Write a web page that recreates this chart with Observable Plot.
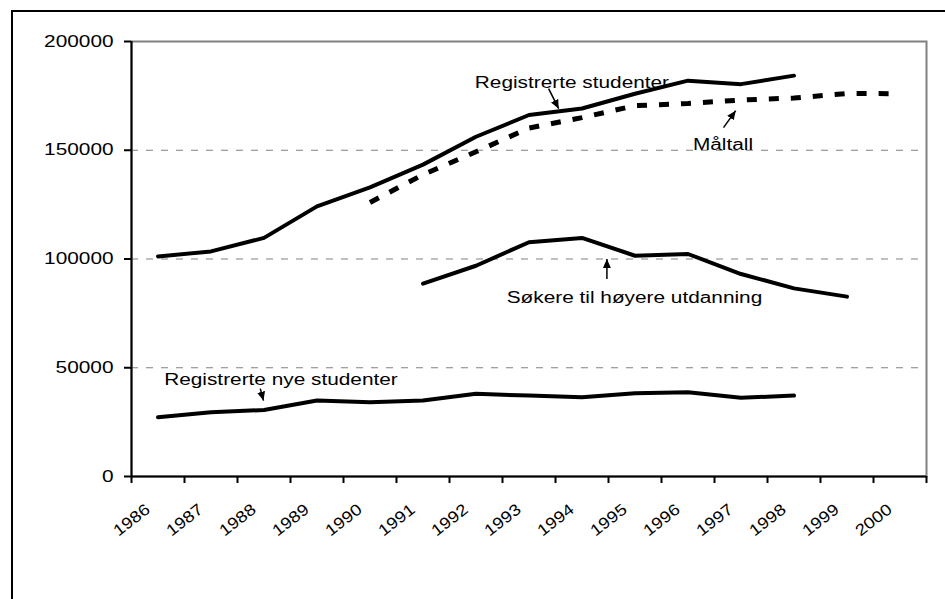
<!DOCTYPE html>
<html><head><meta charset="utf-8">
<script src="https://cdn.jsdelivr.net/npm/d3@7"></script>
<script src="https://cdn.jsdelivr.net/npm/@observablehq/plot@0.6"></script>
<style>
html,body{margin:0;padding:0;background:#fff;overflow:hidden;}
#wrap{position:relative;width:945px;height:599px;overflow:hidden;}
#wrap svg{position:absolute;left:0;top:0;}
#border{position:absolute;left:11px;top:10px;width:2000px;height:2000px;border:2px solid #000;pointer-events:none;}
</style></head><body><div id="wrap"><div id="border"></div></div>
<script>
// Category labels
const years = [1986,1987,1988,1989,1990,1991,1992,1993,1994,1995,1996,1997,1998,1999,2000];
const yTicks = [0, 50000, 100000, 150000, 200000];
const gridValues = [50000, 100000, 150000];

// Series
const regStudYears = [1986,1987,1988,1989,1990,1991,1992,1993,1994,1995,1996,1997,1998];
const regStud = [101200,103500,109700,124200,132900,143400,156200,166200,169200,176000,182000,180400,184300];

const maltallYears = [1990,1991,1992,1993,1994,1995,1996,1997,1998,1999,2000];
const maltall = [126000,138800,149300,160200,165000,170500,171500,173100,174000,176100,176000];

const sokereYears = [1991,1992,1993,1994,1995,1996,1997,1998,1999];
const sokere = [88700,96900,107700,109700,101500,102300,93100,86500,82700];

const nyeYears = [1986,1987,1988,1989,1990,1991,1992,1993,1994,1995,1996,1997,1998];
const nye = [27200,29500,30600,34900,34100,34900,38000,37200,36400,38300,38700,36200,37200];

// Annotations (data units)
const labelTexts = ["Registrerte studenter", "Måltall", "Søkere til høyere utdanning", "Registrerte nye studenter"];
const labelX = [1993.81, 1996.66, 1994.99, 1988.32];
const labelY = [181200, 152700, 82000, 44600];
const arrowX1 = [1993.37, 1996.67, 1994.47, 1987.93];
const arrowY1 = [178300, 160400, 90800, 40400];
const arrowX2 = [1993.56, 1996.90, 1994.47, 1987.99];
const arrowY2 = [169100, 168200, 100000, 34900];

const toRows = (xs, vs) => xs.map((x, i) => ({year: x, value: vs[i]}));
const boundaries = years.map(y => y - 0.5).concat([years[years.length - 1] + 0.5]);
const labels = labelTexts.map((t, i) => ({t, x: labelX[i], y: labelY[i]}));
const arrows = arrowX1.map((x, i) => ({x1: x, y1: arrowY1[i], x2: arrowX2[i], y2: arrowY2[i]}));

const font = "'Liberation Sans', Arial, sans-serif";

function filledArrow(color, context) {
  const doc = (context && context.document) || document;
  const ns = "http://www.w3.org/2000/svg";
  const m = doc.createElementNS(ns, "marker");
  m.setAttribute("viewBox", "-9 -4.5 9 9");
  m.setAttribute("markerWidth", "9");
  m.setAttribute("markerHeight", "9");
  m.setAttribute("markerUnits", "userSpaceOnUse");
  m.setAttribute("orient", "auto");
  m.setAttribute("refX", "0");
  m.setAttribute("refY", "0");
  const p = doc.createElementNS(ns, "path");
  p.setAttribute("d", "M-9,-4L0,0L-9,4Z");
  p.setAttribute("fill", color);
  p.setAttribute("stroke", "none");
  m.appendChild(p);
  return m;
}

function build(useMarker) {
  const arrowMark = useMarker
    ? Plot.link(arrows, {x1: "x1", y1: "y1", x2: "x2", y2: "y2", stroke: "#000", strokeWidth: 1.5, markerEnd: filledArrow})
    : Plot.arrow(arrows, {x1: "x1", y1: "y1", x2: "x2", y2: "y2", stroke: "#000", strokeWidth: 2, headLength: 9, headAngle: 60});
  return Plot.plot({
    width: 945, height: 599,
    marginLeft: 131, marginRight: 19, marginTop: 41, marginBottom: 123,
    style: {fontFamily: font, fontSize: "16px", color: "#000", background: "#fff", overflow: "visible"},
    x: {type: "linear", domain: [boundaries[0], boundaries[boundaries.length - 1]]},
    y: {domain: [0, 200000]},
    marks: [
      Plot.frame({stroke: "#808080", strokeWidth: 2}),
      Plot.ruleY(gridValues, {stroke: "#808080", strokeWidth: 1, strokeDasharray: "7,8"}),
      Plot.ruleX([boundaries[0]], {stroke: "#000", strokeWidth: 2}),
      Plot.ruleY([0], {stroke: "#000", strokeWidth: 2}),
      Plot.axisY({ticks: yTicks, tickFormat: d => String(d), tickSize: 7, tickPadding: 11, fontSize: 16, label: null, stroke: "#000", strokeWidth: 2}),
      Plot.axisX({ticks: boundaries, tickFormat: () => "", tickSize: 7, tickPadding: 0, label: null, stroke: "#000", strokeWidth: 2}),
      Plot.text(years, {x: d => d, frameAnchor: "bottom", text: d => String(d), rotate: -37.6, textAnchor: "end", lineAnchor: "middle", dx: -10, dy: 31, fontSize: 16, fill: "#000", className: "xlab"}),
      Plot.line(toRows(regStudYears, regStud), {x: "year", y: "value", stroke: "#000", strokeWidth: 4}),
      Plot.line(toRows(maltallYears, maltall), {x: "year", y: "value", stroke: "#000", strokeWidth: 5, strokeDasharray: "10,12", strokeLinecap: "butt"}),
      Plot.line(toRows(sokereYears, sokere), {x: "year", y: "value", stroke: "#000", strokeWidth: 4}),
      Plot.line(toRows(nyeYears, nye), {x: "year", y: "value", stroke: "#000", strokeWidth: 4}),
      arrowMark,
      Plot.text(labels, {x: "x", y: "y", text: "t", fontSize: 16, fill: "#000", textAnchor: "middle", lineAnchor: "middle"})
    ]
  });
}

let chart;
try { chart = build(true); } catch (e) { chart = build(false); }

const wrap = document.getElementById("wrap");
wrap.insertBefore(chart, document.getElementById("border"));

// Horizontal stretch of texts, as in the reference
chart.querySelectorAll("text").forEach(t => {
  const rotated = !!t.closest(".xlab");
  const L = t.getComputedTextLength();
  if (L > 0) {
    t.setAttribute("textLength", (L * (rotated ? 1.16 : 1.3)).toFixed(1));
    t.setAttribute("lengthAdjust", "spacingAndGlyphs");
  }
});
</script>
</body></html>
